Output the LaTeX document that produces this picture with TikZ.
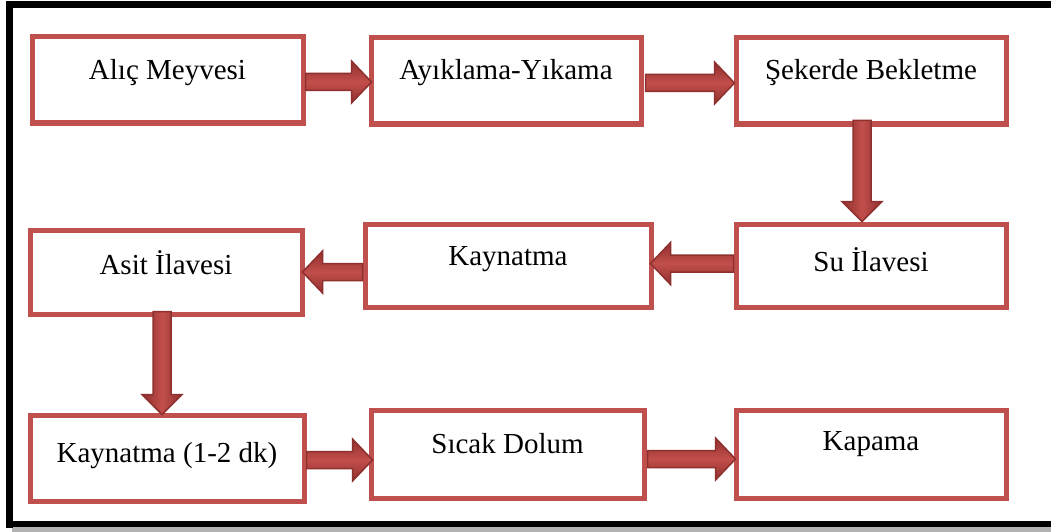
\documentclass[tikz,border=0pt]{standalone}
\usepackage{fontspec}
\setmainfont{Liberation Serif}
\usetikzlibrary{calc}
\definecolor{boxred}{HTML}{C0504D}
\definecolor{arrdark}{HTML}{8E302E}
\definecolor{arrmid}{HTML}{C24E4B}
\tikzset{
  box/.style={draw=boxred, line width=5pt, rectangle, inner sep=0pt},
  lbl/.style={font=\fontsize{29}{32}\selectfont, text=black, inner sep=0pt},
  harrstyle/.style={draw=arrdark, line width=1.5pt, top color=arrdark, bottom color=arrdark, middle color=arrmid},
  varrstyle/.style={draw=arrdark, line width=1.5pt, left color=arrdark, right color=arrdark, middle color=arrmid},
}
% horizontal block arrow: #1 start, #2 tip, #3 = 1 (right) or -1 (left)
\newcommand\harr[3]{%
  \draw[harrstyle] ($(#1)+(0,-8.5)$) -- ($(#2)+({#3*-20},-8.5)$) -- ($(#2)+({#3*-20},-21)$) -- (#2)
    -- ($(#2)+({#3*-20},21)$) -- ($(#2)+({#3*-20},8.5)$) -- ($(#1)+(0,8.5)$) -- cycle;}
% vertical block arrow (downward): #1 start, #2 tip
\newcommand\varr[2]{%
  \draw[varrstyle] ($(#1)+(-9,0)$) -- ($(#2)+(-9,-20)$) -- ($(#2)+(-20,-20)$) -- (#2)
    -- ($(#2)+(20,-20)$) -- ($(#2)+(9,-20)$) -- ($(#1)+(9,0)$) -- cycle;}
\begin{document}
\begin{tikzpicture}[x=1pt,y=-1pt]
\useasboundingbox (0,0) rectangle (1051,532);
\clip (0,0) rectangle (1051,532);
\fill[white] (0,0) rectangle (1051,532);
% outer frame
\fill[black!30] (12,527) rectangle (1060,532);
\draw[line width=7pt, black] (9,5) -- (1070,5);
\draw[line width=7pt, black] (9,1.5) -- (9,527.5);
\draw[line width=6pt, black] (5.5,524) -- (1070,524);
% boxes
\node[box, minimum width=271pt, minimum height=86pt, label={[lbl,yshift=7pt]center:Alıç Meyvesi}] (b1) at (167.5,80) {};
\node[box, minimum width=270pt, minimum height=86pt, label={[lbl,yshift=8pt]center:Ayıklama-Yıkama}] (b2) at (506,81) {};
\node[box, minimum width=270pt, minimum height=86pt, label={[lbl,yshift=8pt]center:Şekerde Bekletme}] (b3) at (871,81) {};
\node[box, minimum width=272pt, minimum height=84pt, label={[lbl,yshift=9pt]center:Asit İlavesi}] (b4) at (166,272) {};
\node[box, minimum width=286pt, minimum height=83pt, label={[lbl,yshift=6pt]center:Kaynatma}] (b5) at (508,265.5) {};
\node[box, minimum width=270pt, minimum height=83pt, label={[lbl,yshift=6pt]center:Su İlavesi}] (b6) at (871,265.5) {};
\node[box, minimum width=274pt, minimum height=86pt, label={[lbl,yshift=2pt]center:Kaynatma (1-2 dk)}] (b7) at (167,458) {};
\node[box, minimum width=273pt, minimum height=88pt, label={[lbl,yshift=10pt]center:Sıcak Dolum}] (b8) at (507.5,454) {};
\node[box, minimum width=270pt, minimum height=88pt, label={[lbl,yshift=10pt]center:Kapama}] (b9) at (871,454) {};
% helper coordinates
\coordinate (s1) at ($(b1.east)+(0,2)$);
\coordinate (t1) at ($(b2.west |- s1)+(3,0)$);
\coordinate (s2) at ($(b2.east)+(2,2)$);
\coordinate (t2) at ($(b3.west |- s2)+(1,0)$);
\coordinate (s3) at ($(b3.south)+(-9,-6)$);
\coordinate (t3) at (s3 |- b6.north);
\coordinate (s4) at ($(b6.west)+(0,-2)$);
\coordinate (t4) at ($(b5.east |- s4)+(-3,0)$);
\coordinate (s5) at (b5.west |- b4.east);
\coordinate (t5) at ($(b4.east)+(-2,0)$);
\coordinate (s6) at ($(b4.south)+(-4,-5)$);
\coordinate (t6) at ($(s6 |- b7.north)+(0,2)$);
\coordinate (s7) at ($(b7.east)+(0,2)$);
\coordinate (t7) at ($(b8.west |- s7)+(4,0)$);
\coordinate (s8) at ($(b8.east)+(1,5)$);
\coordinate (t8) at ($(b9.west |- s8)+(2,0)$);
% arrows
\harr{s1}{t1}{1}
\harr{s2}{t2}{1}
\varr{s3}{t3}
\harr{s4}{t4}{-1}
\harr{s5}{t5}{-1}
\varr{s6}{t6}
\harr{s7}{t7}{1}
\harr{s8}{t8}{1}
\end{tikzpicture}
\end{document}
